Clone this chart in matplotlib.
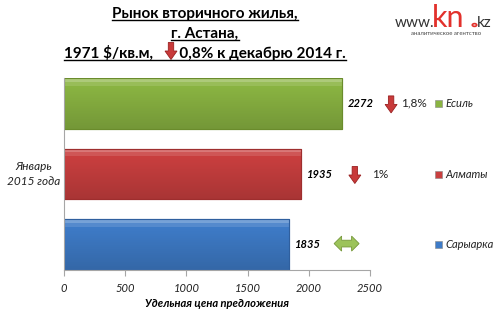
import matplotlib
matplotlib.use("Agg")
import numpy as np
import matplotlib.pyplot as plt
from matplotlib.patches import Polygon, Rectangle, Circle
from matplotlib.lines import Line2D
from matplotlib.colors import to_rgb

# ---- data ----
districts = ['Сарыарка', 'Алматы', 'Есиль']
prices = [1835, 1935, 2272]
changes = ['', '1%', '1,8%']
directions = ['flat', 'down', 'down']
bar_colors = ['#3E7BC7', '#C93F3F', '#8AB442']
edge_colors = ['#2F5F9E', '#9E2E2E', '#6A8C2C']
xticks = [0, 500, 1000, 1500, 2000, 2500]
category_label = 'Январь\n2015 года'
xlabel = 'Удельная цена предложения'
title_lines = ['Рынок вторичного жилья,', 'г. Астана,',
               '1971 $/кв.м,       0,8% к декабрю 2014 г.']

W, H = 500, 313
plt.rcParams['font.family'] = ['Lato', 'DejaVu Sans']
fig = plt.figure(figsize=(W / 100, H / 100), dpi=100)
fig.patch.set_facecolor('white')

L, R, T, B = 64, 370, 78, 270
ax = fig.add_axes([L / W, 1 - B / H, (R - L) / W, (B - T) / H])

pos = list(range(len(prices)))
h = 0.72
bars = ax.barh(pos, prices, height=h, color=bar_colors, edgecolor=edge_colors, linewidth=0.8)

# glossy vertical gradient inside each bar
def mix(c, t, amt):
    c = np.array(to_rgb(c)); t = np.array(to_rgb(t))
    return c * (1 - amt) + t * amt
for bar, col in zip(bars, bar_colors):
    x0, y0 = bar.get_x(), bar.get_y()
    bw, bh = bar.get_width(), bar.get_height()
    n = 200
    grad = np.zeros((n, 1, 3))
    for i in range(n):
        f = i / (n - 1)  # 0 bottom .. 1 top
        if f > 0.92:
            grad[i, 0] = mix(col, 'white', 0.30)
        elif f > 0.84:
            grad[i, 0] = mix(col, 'white', 0.12)
        else:
            grad[i, 0] = mix(col, 'black', 0.16 * (0.84 - f) / 0.84)
    im = ax.imshow(grad, extent=(x0, x0 + bw, y0, y0 + bh), origin='lower',
                   aspect='auto', interpolation='nearest', zorder=bar.get_zorder() + 0.1)
    im.set_clip_path(bar)
    ax.add_patch(Rectangle((x0, y0), bw, bh, facecolor='none', edgecolor=bar.get_edgecolor(),
                           linewidth=0.8, zorder=bar.get_zorder() + 0.2))
ax.set_xlim(0, 2500)
ax.set_ylim(-h / 2, len(prices) - 1 + h / 2)
ax.set_aspect('auto')

ax.set_xticks(xticks)
ax.set_xticklabels([str(t) for t in xticks], fontstyle='italic', fontsize=8, color='#222222')
ax.set_yticks([])
for s in ['top', 'right']:
    ax.spines[s].set_visible(False)
for s in ['left', 'bottom']:
    ax.spines[s].set_color('#A6A6A6')
    ax.spines[s].set_linewidth(0.8)
ax.tick_params(axis='x', length=4, color='#A6A6A6', pad=5, direction='out')
ax.set_xlabel(xlabel, fontstyle='italic', fontweight='bold', fontsize=8, labelpad=3)

fig.text(34 / W, 1 - 174 / H, category_label, ha='center', va='center',
         fontstyle='italic', fontsize=8.5, color='#222222', linespacing=1.35)

# value labels
for p, v in zip(pos, prices):
    ax.annotate(str(v), (v, p), xytext=(6, 0), textcoords='offset pixels',
                ha='left', va='center', fontstyle='italic', fontweight='bold', fontsize=8,
                zorder=5)

def down_arrow(cx, cy, w, hh, color='#C83A3A', ec='#9A2020'):
    sw = w * 0.45
    hl = hh * 0.5
    pts = [(cx - sw / 2, cy - hh / 2), (cx + sw / 2, cy - hh / 2),
           (cx + sw / 2, cy + hh / 2 - hl), (cx + w / 2, cy + hh / 2 - hl),
           (cx, cy + hh / 2), (cx - w / 2, cy + hh / 2 - hl),
           (cx - sw / 2, cy + hh / 2 - hl)]
    pts = [(x / W, 1 - y / H) for x, y in pts]
    fig.patches.append(Polygon(pts, closed=True, transform=fig.transFigure,
                               facecolor=color, edgecolor=ec, linewidth=0.6))

def double_arrow(cx, cy, w, hh, color='#9CC35A', ec='#76983A'):
    sh = hh * 0.45
    hl = w * 0.3
    pts = [(cx - w / 2, cy), (cx - w / 2 + hl, cy - hh / 2), (cx - w / 2 + hl, cy - sh / 2),
           (cx + w / 2 - hl, cy - sh / 2), (cx + w / 2 - hl, cy - hh / 2), (cx + w / 2, cy),
           (cx + w / 2 - hl, cy + hh / 2), (cx + w / 2 - hl, cy + sh / 2),
           (cx - w / 2 + hl, cy + sh / 2), (cx - w / 2 + hl, cy + hh / 2)]
    pts = [(x / W, 1 - y / H) for x, y in pts]
    fig.patches.append(Polygon(pts, closed=True, transform=fig.transFigure,
                               facecolor=color, edgecolor=ec, linewidth=0.6))

# change markers next to bars
arrow_offsets = [58, 54, 49]
text_offsets = [0, 17, 10]
fig.canvas.draw()
for p, v, c, d, ao, to in zip(pos, prices, changes, directions, arrow_offsets, text_offsets):
    xp, yp = ax.transData.transform((v, p))
    ypix = H - yp
    if d == 'down':
        down_arrow(xp + ao, ypix + 1, 12, 17)
        fig.text((xp + ao + to) / W, 1 - ypix / H, c, ha='left', va='center',
                 fontsize=8.5, color='#222222')
    else:
        double_arrow(xp + ao, ypix - 1, 25, 15)

# legend at right
for p, name, col in zip(pos, districts, bar_colors):
    xp, yp = ax.transData.transform((0, p))
    ypix = H - yp
    fig.patches.append(Rectangle((435 / W, 1 - (ypix + 3.5) / H), 7 / W, 7 / H,
                                 transform=fig.transFigure, facecolor=col,
                                 edgecolor='#888888', linewidth=0.4))
    fig.text(445 / W, 1 - ypix / H, name, ha='left', va='center', fontstyle='italic',
             fontsize=8, color='#222222')

# title lines with underline
title_y = [14, 34, 53]
title_texts = []
for line, y in zip(title_lines, title_y):
    t = fig.text(205 / W, 1 - y / H, line, ha='center', va='center', fontweight='bold',
                 fontsize=11, color='black')
    title_texts.append(t)
fig.canvas.draw()
r = fig.canvas.get_renderer()
for t in title_texts:
    bb = t.get_window_extent(r)
    yline = bb.y0 + 1
    fig.add_artist(Line2D([bb.x0 / W, bb.x1 / W], [yline / H, yline / H],
                          transform=fig.transFigure, color='black', linewidth=1.0))
down_arrow(171, 51, 12, 17)

# logo
fig.text(395 / W, 1 - 27 / H, 'www.', ha='left', va='baseline', fontsize=11, color='#333333')
fig.text(432 / W, 1 - 27 / H, 'kn', ha='left', va='baseline', fontsize=22, color='#E2312C')
fig.patches.append(Circle((474.5 / W, 1 - 25 / H), 2.2 / W, transform=fig.transFigure,
                          facecolor='white', edgecolor='#E2312C', linewidth=1.2))
fig.text(477 / W, 1 - 27 / H, 'kz', ha='left', va='baseline', fontsize=11, color='#333333')
fig.text(446 / W, 1 - 33.5 / H, 'аналитическое агентство', ha='center', va='center',
         fontsize=4.3, color='#444444')

fig.savefig('out.png', dpi=100)
